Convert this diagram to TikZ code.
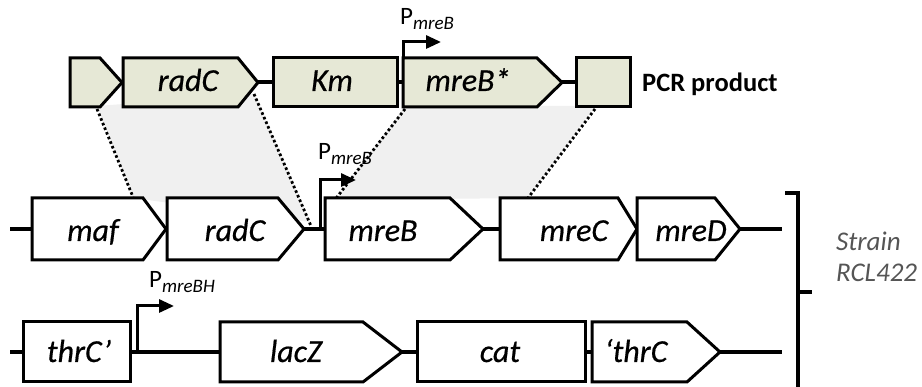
\documentclass[tikz,border=0pt]{standalone}
\usepackage{fontspec}
\setmainfont{Carlito}
\newfontfamily\genefont{Carlito}[FakeBold=0.5]
\usetikzlibrary{arrows.meta}

\definecolor{pcrfill}{HTML}{E6E8D6}
\definecolor{homgray}{HTML}{F0F0F0}
\definecolor{straingray}{HTML}{555555}

% pentagon-shaped gene arrow: style, left x, shoulder x, tip x, top y, bottom y
\newcommand\genebox[6]{%
  \draw[#1] (#2,#5) -- (#3,#5) -- (#4,{(#5+#6)/2}) -- (#3,#6) -- (#2,#6) -- cycle;}
% promoter label: P with italic subscript
\newcommand\promlabel[1]{P\fontsize{19}{22}\selectfont\raisebox{-4.5pt}{\itshape #1}}

\tikzset{
  gene/.style={draw=black, line width=3pt, line join=miter, fill=white},
  pcr/.style={gene, fill=pcrfill},
  backbone/.style={line width=4pt},
  genelabel/.style={anchor=base, inner sep=0pt, font=\genefont\fontsize{32}{38}\selectfont\itshape},
  promoter/.style={line width=3pt, -{Triangle[length=15pt,width=13pt]}},
  plabel/.style={anchor=base west, inner sep=0pt, font=\fontsize{25}{30}\selectfont},
  homology/.style={line width=2.8pt, dash pattern=on 2.6pt off 2.4pt},
}

\begin{document}
\begin{tikzpicture}[x=1pt, y=-1pt]
\useasboundingbox (0,0) rectangle (922,387);

% homologous regions shaded between the product and the chromosome
\fill[homgray] (97,106) -- (255,94) -- (310,222) -- (133,198) -- cycle;
\fill[homgray] (405,106) -- (595,106) -- (528,198) -- (335,200) -- cycle;

% anchor points of the homology lines
\coordinate (h1a) at (97,109);  \coordinate (h1b) at (133,197);
\coordinate (h2a) at (254,94);  \coordinate (h2b) at (311,226);
\coordinate (h3a) at (405,109); \coordinate (h3b) at (334,201);
\coordinate (h4a) at (595,109); \coordinate (h4b) at (528,198);
\foreach \a/\b in {h1a/h1b, h2a/h2b, h3a/h3b, h4a/h4b}
  \draw[homology] (\a) -- (\b);

% ---------- PCR product ----------
\coordinate (t0) at (258,82.5); \coordinate (t1) at (273,82.5);
\coordinate (t2) at (397,82.5); \coordinate (t3) at (403,82.5);
\coordinate (t4) at (562,82.5); \coordinate (t5) at (576,82.5);
\draw[backbone] (t0) -- (t1) (t2) -- (t3) (t4) -- (t5);
\genebox{pcr}{70}{100}{122}{58}{107}
\genebox{pcr}{123}{238}{258}{58}{107}
\draw[pcr] (273,58) rectangle (397,107);
\genebox{pcr}{403}{537}{562}{58}{107}
\draw[pcr] (576,58) rectangle (630,107);
\node[genelabel] (radCp) at (188,91) {radC};
\node[genelabel] (Km) at (332,91) {Km};
\node[genelabel] (mreBs) at (468,91) {mreB*};
\node[anchor=base west, inner sep=0pt, font=\fontsize{26.5}{32}\selectfont\bfseries] (pcrlab) at (642,92) {PCR product};

\coordinate (pt0) at (403,58);
\coordinate (pt1) at (403,42);
\coordinate (pt2) at (441,42);
\draw[promoter] (pt0) -- (pt1) -- (pt2);
\node[plabel] (ptop) at (400,25) {\promlabel{mreB}};

% ---------- mre operon ----------
\coordinate (m0) at (10,229);  \coordinate (m1) at (32,229);
\coordinate (m2) at (304,229); \coordinate (m3) at (325,229);
\coordinate (m4) at (483,229); \coordinate (m5) at (500,229);
\coordinate (m6) at (740,229); \coordinate (m7) at (782,229);
\draw[backbone] (m0) -- (m1) (m2) -- (m3) (m4) -- (m5) (m6) -- (m7);
\genebox{gene}{32}{143}{166}{198}{260}
\genebox{gene}{167}{278}{304}{198}{260}
\genebox{gene}{325}{450}{483}{198}{260}
\genebox{gene}{500}{618}{637}{198}{260}
\genebox{gene}{637}{715}{740}{198}{260}
\node[genelabel] (maf) at (93,241) {maf};
\node[genelabel] (radC) at (235,241) {radC};
\node[genelabel] (mreB) at (383,241) {mreB};
\node[genelabel] (mreC) at (574,241) {mreC};
\node[genelabel] (mreD) at (691,241) {mreD};

\coordinate (pm0) at (320,229);
\coordinate (pm1) at (320,180);
\coordinate (pm2) at (356,180);
\draw[promoter] (pm0) -- (pm1) -- (pm2);
\node[plabel] (pmid) at (318,160) {\promlabel{mreB}};

% ---------- thrC locus ----------
\coordinate (b0) at (10,352);  \coordinate (b1) at (23,352);
\coordinate (b2) at (130,352); \coordinate (b3) at (220,352);
\coordinate (b4) at (402,352); \coordinate (b5) at (417,352);
\coordinate (b6) at (585,352); \coordinate (b7) at (592,352);
\coordinate (b8) at (720,352); \coordinate (b9) at (782,352);
\draw[backbone] (b0) -- (b1) (b2) -- (b3) (b4) -- (b5) (b6) -- (b7) (b8) -- (b9);
\draw[gene] (23,322) rectangle (130,382);
\genebox{gene}{220}{363}{402}{322}{382}
\draw[gene] (417,322) rectangle (585,382);
\genebox{gene}{592}{687}{720}{322}{382}
\node[genelabel] (thrCa) at (79,362) {thrC’};
\node[genelabel] (lacZ) at (296,362) {lacZ};
\node[genelabel] (cat) at (500,362) {cat};
\node[genelabel] (thrCb) at (636,362) {‘thrC};

\coordinate (pb0) at (137,352);
\coordinate (pb1) at (137,306);
\coordinate (pb2) at (174,306);
\draw[promoter] (pb0) -- (pb1) -- (pb2);
\node[plabel] (pbot) at (149,288) {\promlabel{mreBH}};

% ---------- strain bracket ----------
\coordinate (k0) at (785,193); \coordinate (k1) at (798,193);
\coordinate (k2) at (798,392); \coordinate (k3) at (798,292);
\coordinate (k4) at (812,292);
\draw[line width=3.5pt, line join=miter] (k0) -- (k1) -- (k2);
\draw[line width=3.5pt] (k3) -- (k4);
\node[anchor=base west, inner sep=0pt, align=left, text=straingray,
      font=\fontsize{27}{31}\selectfont\itshape] (strain) at (836,282) {Strain\\RCL422};
\end{tikzpicture}
\end{document}
